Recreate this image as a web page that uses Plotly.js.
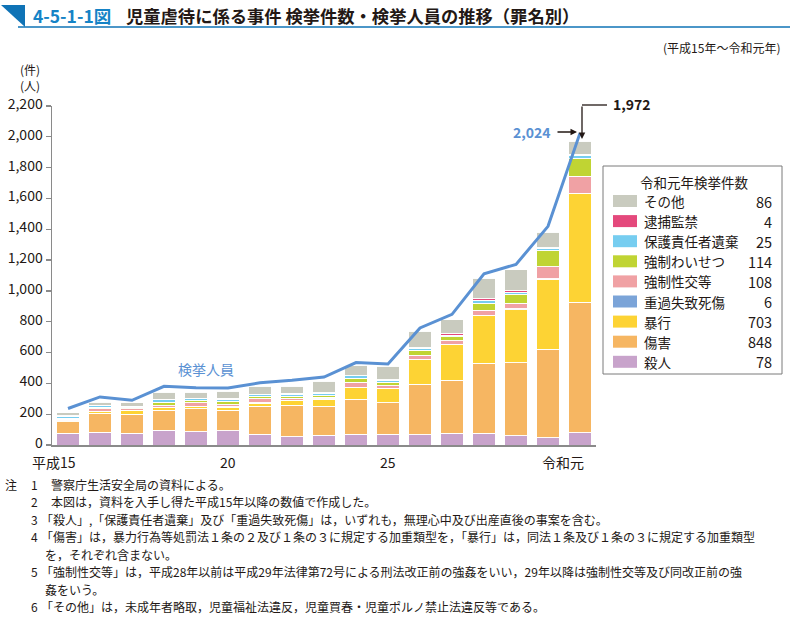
<!DOCTYPE html>
<html><head><meta charset="utf-8">
<script src="https://cdn.plot.ly/plotly-3.0.1.min.js"></script>
<style>html,body{margin:0;padding:0;background:#fff;} #chart{width:790px;height:618px;}</style>
</head><body><div id="chart"></div>
<script>
// ---- data ----
const years = ['平成15','16','17','18','19','20','21','22','23','24','25','26','27','28','29','30','令和元'];
const tickLabels = ['平成15','20','25','令和元'];
const murder      = [76, 82, 76, 97, 86, 93, 71, 54, 63, 71, 71, 67, 76, 76, 60, 47, 78];
const injury      = [75,123,122,130,149,133,181,203,189,225,203,328,345,453,473,574,848];
const assault     = [ 6, 13, 24, 14, 15, 18, 20, 30, 44, 77, 90,160,231,310,345,455,703];
const negligence  = [ 2,  2,  2,  3,  3,  3,  2,  3,  3,  3,  4,  3,  3,  4,  5,  4,  6];
const rape        = [ 8, 15, 11, 10, 21, 15, 26, 14, 10, 32, 18, 25, 20, 31, 38, 78,108];
const indecent    = [ 6,  9,  6, 24, 13, 22, 17, 13, 12, 26, 22, 32, 26, 47, 56,104,114];
const abandonment = [14, 13,  8, 16, 13, 14,  9, 14, 14, 14, 13, 12, 10, 17, 15, 15, 25];
const confinement = [ 2,  2,  2,  3,  3,  5,  4,  4,  5,  3,  4,  5, 10, 12,  8,  3,  4];
const other       = [19, 19, 22, 46, 39, 47, 51, 47, 75, 67, 86,106, 92,131,138,100, 86];
const persons     = [237,312,290,381,372,370,404,420,441,535,526,760,848,1111,1172,1419,2024];
const seriesNames = ['殺人','傷害','暴行','重過失致死傷','強制性交等','強制わいせつ','保護責任者遺棄','逮捕監禁','その他'];
const lineName = '検挙人員';
const legendTitle = '令和元年検挙件数';
const titleNo = '4-5-1-1図';
const titleText = '児童虐待に係る事件 検挙件数・検挙人員の推移（罪名別）';
const periodText = '(平成15年～令和元年)';
const unitText = ['(件)','(人)'];
const notes = [
  ['注','1','警察庁生活安全局の資料による。'],
  ['','2','本図は，資料を入手し得た平成15年以降の数値で作成した。'],
  ['','3','「殺人」,「保護責任者遺棄」及び「重過失致死傷」は，いずれも，無理心中及び出産直後の事案を含む。'],
  ['','4','「傷害」は，暴力行為等処罰法１条の２及び１条の３に規定する加重類型を，「暴行」は，同法１条及び１条の３に規定する加重類型'],
  ['','','を，それぞれ含まない。'],
  ['','5','「強制性交等」は，平成28年以前は平成29年法律第72号による刑法改正前の強姦をいい，29年以降は強制性交等及び同改正前の強'],
  ['','','姦をいう。'],
  ['','6','「その他」は，未成年者略取，児童福祉法違反，児童買春・児童ポルノ禁止法違反等である。']
];

// ---- styles ----
const series = [murder, injury, assault, negligence, rape, indecent, abandonment, confinement, other];
const colors = ['#c8a3cb','#f6b662','#fdd334','#7ba4d8','#f0a1a4','#c0d433','#76cdf0','#e4497c','#c9cbbf'];
const lineColor = '#5a91d3';
const ink = '#231815';
const FONT = '"Noto Sans CJK JP", "Noto Sans", sans-serif';

const L=52, R=596, T=106, B=445, PW=R-L, PH=B-T;
const px = x => (x-L)/PW;
const py = y => (B-y)/PH;

const traces = series.map((s,i)=>({
  type:'bar', x:years, y:s, name:seriesNames[i],
  marker:{color:colors[i], line:{color:'rgba(255,255,255,0.95)', width:1}},
  hoverinfo:'skip'
}));
traces.push({type:'scatter', mode:'lines', x:years, y:persons, name:lineName,
  line:{color:lineColor, width:3}, hoverinfo:'skip'});

const ann = [];
const shapes = [];
function txt(x,y,text,opt){
  ann.push(Object.assign({xref:'paper',yref:'paper',x:px(x),y:py(y),text:text,showarrow:false,borderpad:0,
    xanchor:'left',yanchor:'middle',font:{family:FONT,size:14,color:ink}},opt||{}));
}
// title
shapes.push({type:'path',xref:'paper',yref:'paper',
  path:`M ${px(1)},${py(5)} L ${px(25)},${py(5)} L ${px(25)},${py(27)} Z`,
  fillcolor:'#0f73b6', line:{width:0}});
shapes.push({type:'line',xref:'paper',yref:'paper',x0:px(18),x1:px(790),y0:py(27),y1:py(27),
  line:{color:'#0f73b6',width:1.5}});
txt(32,15,'<b>'+titleNo+'</b>',{font:{family:FONT,size:17.5,color:'#1583c6'}});
txt(125,15,'<b>'+titleText+'</b>',{font:{family:FONT,size:17.3,color:ink}});
txt(781,47,periodText,{xanchor:'right',font:{family:FONT,size:12,color:ink}});
txt(30,77,unitText.join('<br>'),{xanchor:'center',font:{family:FONT,size:12,color:ink}});

// x tick labels
const tickOpts = [{xanchor:'right',xshift:9},{xanchor:'center'},{xanchor:'center'},{xanchor:'right',xshift:5}];
tickLabels.forEach((t,i)=>{
  ann.push(Object.assign({xref:'x',yref:'paper',x:years.indexOf(t),y:py(451),text:t,showarrow:false,yanchor:'top',
    borderpad:0,font:{family:FONT,size:14,color:ink}},tickOpts[i]));
});

// line label and callouts
txt(206,369,lineName,{xanchor:'center',font:{family:FONT,size:14,color:lineColor}});
const last = years.length-1;
const total = series.reduce((a,s)=>a+s[last],0);
const fmt = v => v.toLocaleString('en-US');
txt(552,132,'<b>'+fmt(persons[last])+'</b>',{xanchor:'right',font:{family:FONT,size:14,color:lineColor}});
ann.push({xref:'paper',yref:'paper',x:px(577),y:py(132),ax:-21,ay:0,text:'',showarrow:true,
  arrowhead:2,arrowsize:1,arrowwidth:1.3,arrowcolor:ink});
ann.push({xref:'paper',yref:'paper',x:px(582),y:py(139),ax:0,ay:-34,text:'',showarrow:true,
  arrowhead:2,arrowsize:1,arrowwidth:1.3,arrowcolor:ink});
shapes.push({type:'line',xref:'paper',yref:'paper',x0:px(582),x1:px(607),y0:py(105),y1:py(105),
  line:{color:ink,width:1.3}});
txt(612,104,'<b>'+fmt(total)+'</b>',{font:{family:FONT,size:14,color:ink}});

// legend
shapes.push({type:'rect',xref:'paper',yref:'paper',x0:px(603),x1:px(782),y0:py(166),y1:py(374),
  line:{color:'#7a7a7a',width:1},fillcolor:'#fff'});
txt(694,182,legendTitle,{xanchor:'center',font:{family:FONT,size:13.5,color:ink}});
for(let k=0;k<series.length;k++){
  const i = series.length-1-k;
  const yc = 201 + k*20.1;
  shapes.push({type:'rect',xref:'paper',yref:'paper',x0:px(613),x1:px(637),y0:py(yc-6),y1:py(yc+6),
    fillcolor:colors[i],line:{width:0}});
  txt(643,yc,seriesNames[i],{font:{family:FONT,size:13.5,color:ink}});
  txt(773,yc,String(series[i][last]),{xanchor:'right',font:{family:FONT,size:14.5,color:ink}});
}

// notes
const noteY = [484,501.5,519,536.5,554,571.5,589,606.5];
notes.forEach((n,i)=>{
  const nf = {family:FONT,size:12,color:ink};
  if(n[0]) txt(4,noteY[i],n[0],{font:nf});
  if(n[1]) txt(30,noteY[i],n[1],{font:nf});
  const xs = n[1] ? (n[2].startsWith('「') ? 40 : 50) : 44;
  txt(xs,noteY[i],n[2],{font:nf});
});

const layout = {
  width:790,height:618,margin:{l:L,r:790-R,t:T,b:618-B,pad:0},
  paper_bgcolor:'#fff',plot_bgcolor:'#fff',
  barmode:'stack',bargap:0.29,showlegend:false,
  font:{family:FONT,size:14,color:ink},
  xaxis:{type:'category',range:[-0.5,years.length-0.5],showline:true,linecolor:'#8a8a8a',linewidth:1.5,
    ticks:'',showticklabels:false,showgrid:false,zeroline:false,fixedrange:true},
  yaxis:{range:[0,2200],dtick:200,tick0:0,tickformat:',d',ticks:'outside',ticklen:5,tickcolor:'#8a8a8a',
    tickwidth:1.2,showline:true,linecolor:'#8a8a8a',linewidth:1.5,showgrid:false,zeroline:false,
    ticklabelshift:-2,tickfont:{family:FONT,size:14,color:ink},fixedrange:true},
  annotations:ann, shapes:shapes
};
Plotly.newPlot('chart',traces,layout,{staticPlot:true,displayModeBar:false});
</script></body></html>
